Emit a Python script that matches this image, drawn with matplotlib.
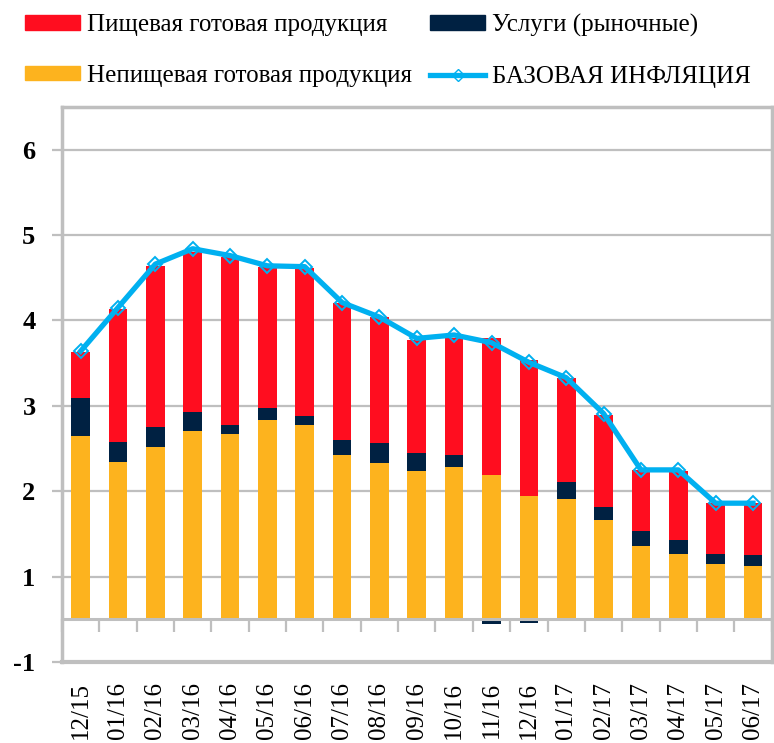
import numpy as np
import matplotlib.pyplot as plt
from matplotlib.patches import Patch
from matplotlib.lines import Line2D

months = ['12/15', '01/16', '02/16', '03/16', '04/16', '05/16', '06/16',
          '07/16', '08/16', '09/16', '10/16', '11/16', '12/16', '01/17',
          '02/17', '03/17', '04/17', '05/17', '06/17']
# contributions (stack starts at the axis crossing 0.5)
nonfood = [2.65, 2.34, 2.52, 2.70, 2.67, 2.83, 2.77, 2.42, 2.33, 2.24,
           2.28, 2.19, 1.95, 1.91, 1.66, 1.36, 1.27, 1.15, 1.12]
services = [0.44, 0.24, 0.23, 0.23, 0.10, 0.14, 0.11, 0.18, 0.23, 0.21,
            0.14, -0.06, -0.04, 0.20, 0.16, 0.17, 0.16, 0.12, 0.13]
food = [0.54, 1.56, 1.89, 1.87, 1.97, 1.66, 1.74, 1.60, 1.48, 1.32,
        1.38, 1.60, 1.59, 1.22, 1.07, 0.72, 0.81, 0.59, 0.61]
core = [3.64, 4.15, 4.66, 4.84, 4.76, 4.64, 4.63, 4.21, 4.04, 3.79,
        3.83, 3.74, 3.51, 3.33, 2.91, 2.25, 2.25, 1.86, 1.86]
ytick_labels = ['-1', '1', '2', '3', '4', '5', '6']

RED = '#FF0D1F'
NAVY = '#002142'
GOLD = '#FDB31E'
BLUE = '#00B0F0'
GREY = '#BFBFBF'
CROSS = 0.5  # where the category axis crosses


def main():
    plt.rcParams['font.family'] = ['Liberation Serif', 'DejaVu Serif']

    fig = plt.figure(figsize=(7.74, 7.43), dpi=100)
    ax = fig.add_axes([0.080, 0.109, 0.917, 0.747])

    x = np.arange(len(months))
    nf = np.array(nonfood)
    sv = np.array(services)
    fd = np.array(food)
    w = 0.5

    ax.bar(x, nf - CROSS, bottom=CROSS, width=w, color=GOLD, zorder=2)
    sv_bottom = np.where(sv >= 0, nf, CROSS)
    ax.bar(x, sv, bottom=sv_bottom, width=w, color=NAVY, zorder=2)
    fd_bottom = nf + np.clip(sv, 0, None)
    ax.bar(x, fd, bottom=fd_bottom, width=w, color=RED, zorder=2)

    ax.plot(x, core, color=BLUE, lw=3.8, marker='D', ms=7,
            mfc='none', mec=BLUE, mew=1.4, zorder=3, solid_joinstyle='round')

    ax.set_xlim(-0.5, len(months) - 0.5)
    ax.set_ylim(0, 6.5)
    ax.set_yticks(range(len(ytick_labels)))
    ax.set_yticklabels(ytick_labels)
    ax.yaxis.grid(True, color=GREY, lw=1.6, zorder=0)
    ax.tick_params(axis='y', length=7, width=1.6, color=GREY, pad=12,
                   labelsize=19)
    for t in ax.get_yticklabels():
        t.set_fontweight('bold')

    ax.set_xticks(x)
    ax.set_xticklabels(months)
    ax.set_xticks(np.arange(len(months) + 1) - 0.5, minor=True)
    ax.tick_params(axis='x', which='major', length=0, pad=45,
                   labelsize=18, labelrotation=90)
    ax.tick_params(axis='x', which='minor', length=9, width=1.6,
                   color=GREY, direction='out')

    for s in ['left', 'top', 'right']:
        ax.spines[s].set_color(GREY)
        ax.spines[s].set_linewidth(2.5)
    ax.spines['bottom'].set_position(('data', CROSS))
    ax.spines['bottom'].set_color(GREY)
    ax.spines['bottom'].set_linewidth(2.2)
    ax.axhline(0, color=GREY, lw=3, clip_on=False, zorder=1)

    handles = [
        Patch(color=RED, label='Пищевая готовая продукция'),
        Patch(color=GOLD, label='Непищевая готовая продукция'),
        Patch(color=NAVY, label='Услуги (рыночные)'),
        Line2D([], [], color=BLUE, lw=3.8, marker='D', ms=6, mfc='none',
               mec=BLUE, label='БАЗОВАЯ ИНФЛЯЦИЯ'),
    ]
    fig.legend(handles=handles, ncol=2, loc='upper left',
               bbox_to_anchor=(0.02, 0.995), frameon=False, fontsize=18,
               handlelength=2.2, handleheight=0.5, handletextpad=0.25,
               labelspacing=1.15, columnspacing=0.75, borderaxespad=0)

    fig.savefig('out.png', dpi=100)


if __name__ == '__main__':
    main()
